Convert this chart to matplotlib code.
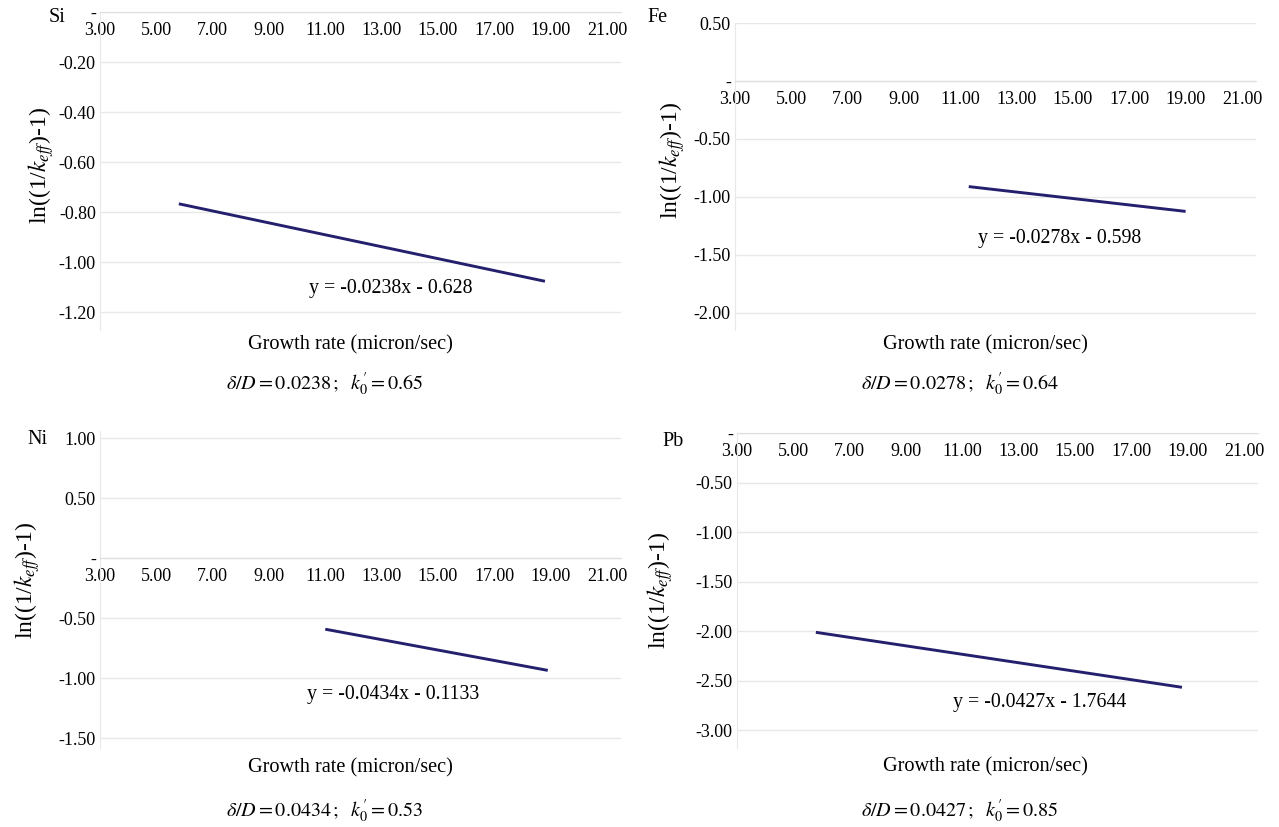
import numpy as np
import matplotlib
matplotlib.use("Agg")
import matplotlib.pyplot as plt
from matplotlib.ticker import FuncFormatter

plt.rcParams["font.family"] = ["Liberation Serif", "DejaVu Serif"]
plt.rcParams["mathtext.fontset"] = "stix"

# data
elements = ["Si", "Fe", "Ni", "Pb"]
slopes = [-0.0238, -0.0278, -0.0434, -0.0427]
intercepts = [-0.628, -0.598, -0.1133, -1.7644]
x_start = [5.8, 11.3, 11.0, 5.8]
x_end = [18.8, 19.0, 18.9, 18.8]
delta_D = ["0.0238", "0.0278", "0.0434", "0.0427"]
k0 = ["0.65", "0.64", "0.53", "0.85"]
x_ticks = [3, 5, 7, 9, 11, 13, 15, 17, 19, 21]
y_ticks = [
    [0, -0.2, -0.4, -0.6, -0.8, -1.0, -1.2],
    [0.5, 0, -0.5, -1.0, -1.5, -2.0],
    [1.0, 0.5, 0, -0.5, -1.0, -1.5],
    [0, -0.5, -1.0, -1.5, -2.0, -2.5, -3.0],
]
y_limits = [(-1.27, 0.0), (-2.15, 0.5), (-1.58, 1.06), (-3.18, 0.0)]

W, H = 1279, 827
fig = plt.figure(figsize=(W / 100, H / 100), dpi=100)

# panel boxes in pixels: left, right, top, bottom
boxes = [(100, 621, 12, 330), (735, 1256, 23, 330),
         (100, 621, 431, 748), (737, 1258, 433, 748)]
# element label, y label, equation, axis title, delta text positions (px)
name_pos = [(57, 18), (657, 18), (37, 440), (673, 442)]
ylab_pos = [(41, 165), (672, 160), (27, 580), (660, 590)]
eq_pos = [(391, 289), (1060, 238), (393, 695), (1040, 703)]
title_pos = [(350, 345), (985, 345), (350, 768), (985, 767)]
delta_pos = [(325, 384), (960, 384), (325, 811), (960, 811)]

line_color = "#24206e"
grid_color = "#e8e8e8"


def fx(x):
    return x / W


def fy(y):
    return 1 - y / H


def tick_fmt(v, pos):
    if abs(v) < 1e-9:
        return "-"
    return f"{v:.2f}"


for i, el in enumerate(elements):
    l, r, t, b = boxes[i]
    ax = fig.add_axes([fx(l), fy(b), (r - l) / W, (b - t) / H])
    ax.set_xlim(3, 21.5)
    ax.set_ylim(*y_limits[i])

    xs = np.array([x_start[i], x_end[i]])
    ax.plot(xs, slopes[i] * xs + intercepts[i], color=line_color, lw=2.1,
            solid_capstyle="butt")

    ax.set_yticks(y_ticks[i])
    ax.yaxis.set_major_formatter(FuncFormatter(tick_fmt))
    ax.set_xticks(x_ticks)
    ax.xaxis.set_major_formatter(FuncFormatter(lambda v, p: f"{v:.2f}"))
    ax.tick_params(axis="both", length=0, labelsize=13)
    ax.tick_params(axis="x", pad=7)
    ax.tick_params(axis="y", pad=3)
    ax.grid(axis="y", color=grid_color, lw=1.0)
    ax.set_axisbelow(True)

    for s in ["top", "right"]:
        ax.spines[s].set_visible(False)
    ax.spines["left"].set_color(grid_color)
    ax.spines["bottom"].set_position(("data", 0))
    ax.spines["bottom"].set_color("#dedede")

    fig.text(fx(name_pos[i][0]), fy(name_pos[i][1]), el, fontsize=14.5,
             ha="center", va="center")
    fig.text(fx(ylab_pos[i][0]), fy(ylab_pos[i][1]),
             r"ln((1/$k_{eff}$)-1)", fontsize=17, rotation=90,
             ha="center", va="center")
    fig.text(fx(eq_pos[i][0]), fy(eq_pos[i][1]),
             f"y = {slopes[i]}x - {abs(intercepts[i])}", fontsize=14.3,
             ha="center", va="center")
    fig.text(fx(title_pos[i][0]), fy(title_pos[i][1]),
             "Growth rate (micron/sec)", fontsize=14.6, ha="center", va="center")
    fig.text(fx(delta_pos[i][0]), fy(delta_pos[i][1]),
             rf"$\delta/D = {delta_D[i]}\,;\ \ k_{{0}}^{{\prime}} = {k0[i]}$",
             fontsize=14.5, ha="center", va="center")

fig.savefig("out.png", dpi=100)
